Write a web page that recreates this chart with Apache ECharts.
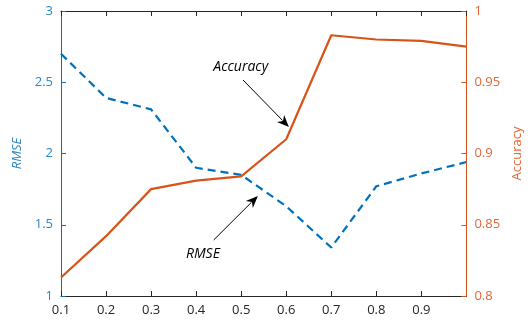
<!DOCTYPE html>
<html>
<head>
<meta charset="utf-8">
<script src="https://cdn.jsdelivr.net/npm/echarts@6/dist/echarts.min.js"></script>
<style>html,body{margin:0;padding:0;background:#fff}#c{width:532px;height:322px}</style>
</head>
<body>
<div id="c"></div>
<script>
const xValues = [0.1, 0.2, 0.3, 0.4, 0.5, 0.6, 0.7, 0.8, 0.9, 1.0];
const rmse = [2.70, 2.39, 2.31, 1.90, 1.85, 1.63, 1.34, 1.77, 1.86, 1.94];
const accuracy = [0.813, 0.842, 0.875, 0.881, 0.884, 0.910, 0.983, 0.980, 0.979, 0.975];
const xTicks = ['0.1','0.2','0.3','0.4','0.5','0.6','0.7','0.8','0.9'];
const leftTicks = ['1','1.5','2','2.5','3'];
const rightTicks = ['0.8','0.85','0.9','0.95','1'];

const BLUE = '#0072BD', ORANGE = '#D95319', DARK = '#262626';
const BLUE_TXT = '#2A86C8', ORANGE_TXT = '#E0673A';
const FONT = 'Open Sans';
const chart = echarts.init(document.getElementById('c'), null, {renderer: 'canvas'});

function fmt(list) {
  return function (v) {
    const s = String(Math.round(v * 1000) / 1000);
    return list.indexOf(s) >= 0 ? s : '';
  };
}

chart.setOption({
  animation: false,
  grid: {left: 61, right: 55, top: 11, bottom: 26, containLabel: false},
  xAxis: [{
    type: 'value', min: 0.1, max: 1.0, interval: 0.1, position: 'bottom',
    axisLine: {lineStyle: {color: DARK, width: 1}},
    axisTick: {inside: true, length: 5, lineStyle: {color: DARK}},
    axisLabel: {formatter: fmt(xTicks), color: DARK, fontFamily: FONT, fontSize: 13, margin: 8, showMaxLabel: false},
    splitLine: {show: false}
  }, {
    type: 'value', min: 0.1, max: 1.0, interval: 0.1, position: 'top',
    axisLine: {show: true, lineStyle: {color: DARK, width: 1}},
    axisTick: {show: true, inside: true, length: 5, lineStyle: {color: DARK}},
    axisLabel: {show: false},
    splitLine: {show: false}
  }],
  yAxis: [{
    type: 'value', min: 1, max: 3, interval: 0.5, position: 'left',
    name: 'RMSE', nameLocation: 'middle', nameRotate: 90, nameGap: 36,
    nameTextStyle: {color: BLUE_TXT, fontFamily: FONT, fontSize: 13, fontStyle: 'italic'},
    axisLine: {show: true, lineStyle: {color: BLUE, width: 1}},
    axisTick: {show: true, inside: true, length: 5, lineStyle: {color: BLUE}},
    axisLabel: {formatter: fmt(leftTicks), color: BLUE_TXT, fontFamily: FONT, fontSize: 13, margin: 8},
    splitLine: {show: false}
  }, {
    type: 'value', min: 0.8, max: 1.0, interval: 0.05, position: 'right',
    name: 'Accuracy', nameLocation: 'middle', nameRotate: 90, nameGap: 44,
    nameTextStyle: {color: ORANGE_TXT, fontFamily: FONT, fontSize: 13},
    axisLine: {show: true, lineStyle: {color: ORANGE, width: 1}},
    axisTick: {show: true, inside: true, length: 5, lineStyle: {color: ORANGE}},
    axisLabel: {formatter: fmt(rightTicks), color: ORANGE_TXT, fontFamily: FONT, fontSize: 13, margin: 8},
    splitLine: {show: false}
  }],
  series: [{
    name: 'RMSE', type: 'line', xAxisIndex: 0, yAxisIndex: 0,
    data: xValues.map((x, i) => [x, rmse[i]]),
    showSymbol: false, symbol: 'none',
    lineStyle: {color: BLUE, width: 2.2, type: [8, 5]}
  }, {
    name: 'Accuracy', type: 'line', xAxisIndex: 0, yAxisIndex: 1,
    data: xValues.map((x, i) => [x, accuracy[i]]),
    showSymbol: false, symbol: 'none',
    lineStyle: {color: ORANGE, width: 2.2}
  }]
});

// annotations (text + arrows) placed in data coordinates
const accAnno = {text: [0.499, 0.961], from: [0.504, 0.9516], to: [0.606, 0.9186], axis: 1, label: 'Accuracy'};
const rmseAnno = {text: [0.415, 1.295], from: [0.439, 1.393], to: [0.537, 1.702], axis: 0, label: 'RMSE'};

function arrowGraphics(a) {
  const f = chart.convertToPixel({xAxisIndex: 0, yAxisIndex: a.axis}, a.from);
  const t = chart.convertToPixel({xAxisIndex: 0, yAxisIndex: a.axis}, a.to);
  const p = chart.convertToPixel({xAxisIndex: 0, yAxisIndex: a.axis}, a.text);
  const dx = t[0] - f[0], dy = t[1] - f[1];
  const len = Math.sqrt(dx * dx + dy * dy);
  const ux = dx / len, uy = dy / len;
  const hl = 12, hw = 5;
  const bx = t[0] - ux * hl, by = t[1] - uy * hl;
  return [{
    type: 'line', shape: {x1: f[0], y1: f[1], x2: bx + ux * 3, y2: by + uy * 3},
    style: {stroke: '#000', lineWidth: 1}
  }, {
    type: 'polygon',
    shape: {points: [[t[0], t[1]], [bx - uy * hw, by + ux * hw], [t[0] - ux * hl * 0.7, t[1] - uy * hl * 0.7], [bx + uy * hw, by - ux * hw]]},
    style: {fill: '#000'}
  }, {
    type: 'text', x: p[0], y: p[1],
    style: {text: a.label, fill: '#000', font: 'italic 14px "' + FONT + '"', align: 'center', verticalAlign: 'middle'}
  }];
}

chart.setOption({graphic: arrowGraphics(accAnno).concat(arrowGraphics(rmseAnno))});
</script>
</body>
</html>
